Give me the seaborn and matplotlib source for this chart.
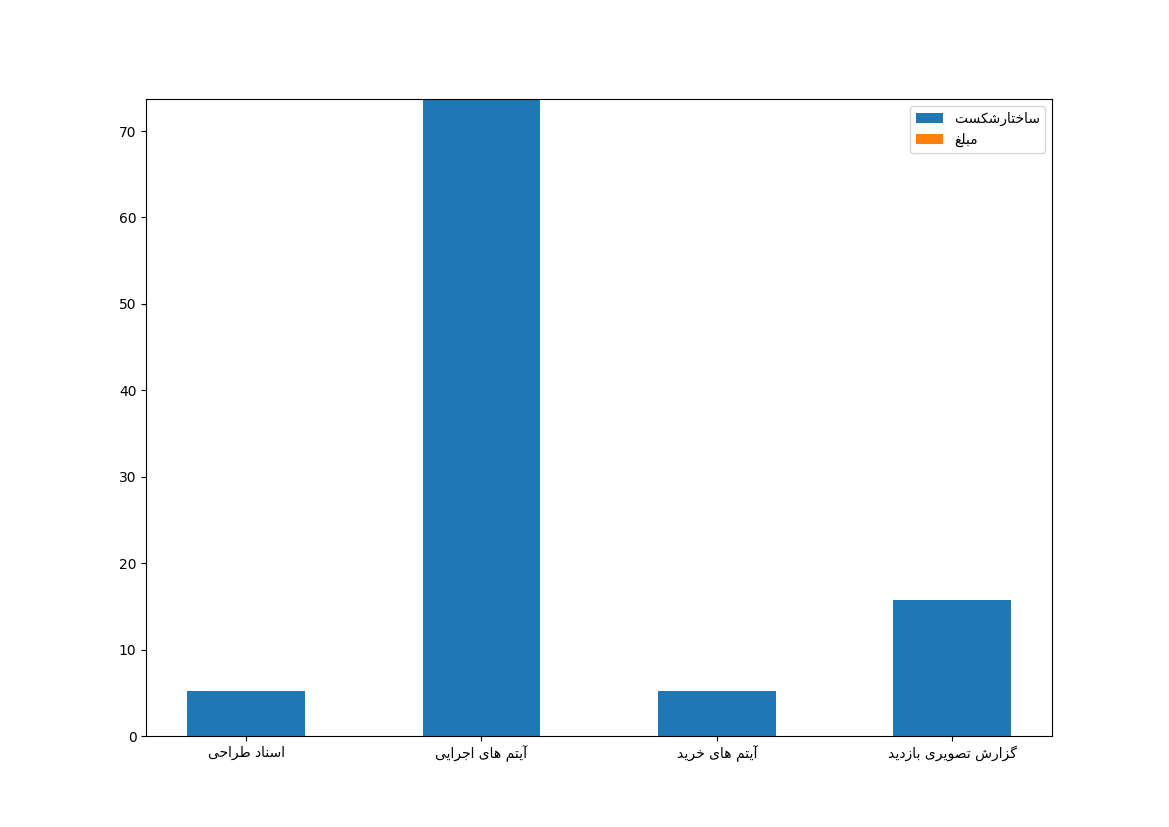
import matplotlib
matplotlib.use("Agg")
import matplotlib.pyplot as plt
import seaborn as sns

# data
categories = ["اسناد طراحی", "آیتم های اجرایی", "آیتم های خرید", "گزارش تصویری بازدید"]
breakdown = [5.263, 73.684, 5.263, 15.789]   # ساختار شکست
amount = [0.0, 0.0, 0.0, 0.0]                 # مبلغ
series_names = ["ساختار\u200cشکست", "مبلغ"]

# contextual forms: isolated, final, initial, medial
FORMS = {
    "\u0627": ("\uFE8D", "\uFE8E"), "\u0622": ("\uFE81", "\uFE82"),
    "\u062F": ("\uFEA9", "\uFEAA"), "\u0631": ("\uFEAD", "\uFEAE"),
    "\u0632": ("\uFEAF", "\uFEB0"), "\u0648": ("\uFEED", "\uFEEE"),
    "\u0628": ("\uFE8F", "\uFE90", "\uFE91", "\uFE92"),
    "\u062A": ("\uFE95", "\uFE96", "\uFE97", "\uFE98"),
    "\u062C": ("\uFE9D", "\uFE9E", "\uFE9F", "\uFEA0"),
    "\u062D": ("\uFEA1", "\uFEA2", "\uFEA3", "\uFEA4"),
    "\u062E": ("\uFEA5", "\uFEA6", "\uFEA7", "\uFEA8"),
    "\u0633": ("\uFEB1", "\uFEB2", "\uFEB3", "\uFEB4"),
    "\u0634": ("\uFEB5", "\uFEB6", "\uFEB7", "\uFEB8"),
    "\u0635": ("\uFEB9", "\uFEBA", "\uFEBB", "\uFEBC"),
    "\u0637": ("\uFEC1", "\uFEC2", "\uFEC3", "\uFEC4"),
    "\u063A": ("\uFECD", "\uFECE", "\uFECF", "\uFED0"),
    "\u0644": ("\uFEDD", "\uFEDE", "\uFEDF", "\uFEE0"),
    "\u0645": ("\uFEE1", "\uFEE2", "\uFEE3", "\uFEE4"),
    "\u0646": ("\uFEE5", "\uFEE6", "\uFEE7", "\uFEE8"),
    "\u0647": ("\uFEE9", "\uFEEA", "\uFEEB", "\uFEEC"),
    "\u06CC": ("\uFBFC", "\uFBFD", "\uFBFE", "\uFBFF"),
    "\u06A9": ("\uFB8E", "\uFB8F", "\uFB90", "\uFB91"),
    "\u06AF": ("\uFB92", "\uFB93", "\uFB94", "\uFB95"),
}


def fa(text):
    # shape persian letters and put them in visual order
    out = []
    for i, ch in enumerate(text):
        f = FORMS.get(ch)
        if f is None:
            out.append(ch)
            continue
        prev = text[i - 1] if i > 0 else ""
        nxt = text[i + 1] if i + 1 < len(text) else ""
        join_prev = prev in FORMS and len(FORMS[prev]) == 4
        join_next = len(f) == 4 and nxt in FORMS
        if join_prev and join_next:
            out.append(f[3])
        elif join_prev:
            out.append(f[1])
        elif join_next:
            out.append(f[2])
        else:
            out.append(f[0])
    return "".join(out)[::-1]


labels = [fa(c) for c in categories]

fig, ax = plt.subplots(figsize=(11.69, 8.27), dpi=100)
sns.barplot(x=labels, y=breakdown, color="#1f77b4", saturation=1, width=0.5,
            label=fa(series_names[0]), ax=ax)
sns.barplot(x=labels, y=amount, bottom=breakdown, color="#ff7f0e", saturation=1,
            width=0.5, label=fa(series_names[1]), ax=ax)

ax.set_xlim(-0.425, 3.425)
ax.set_ylim(0, max(b + a for b, a in zip(breakdown, amount)))
ax.set_xlabel("")
ax.set_ylabel("")
ax.legend(loc="upper right")

plt.savefig("out.png", dpi=100)
